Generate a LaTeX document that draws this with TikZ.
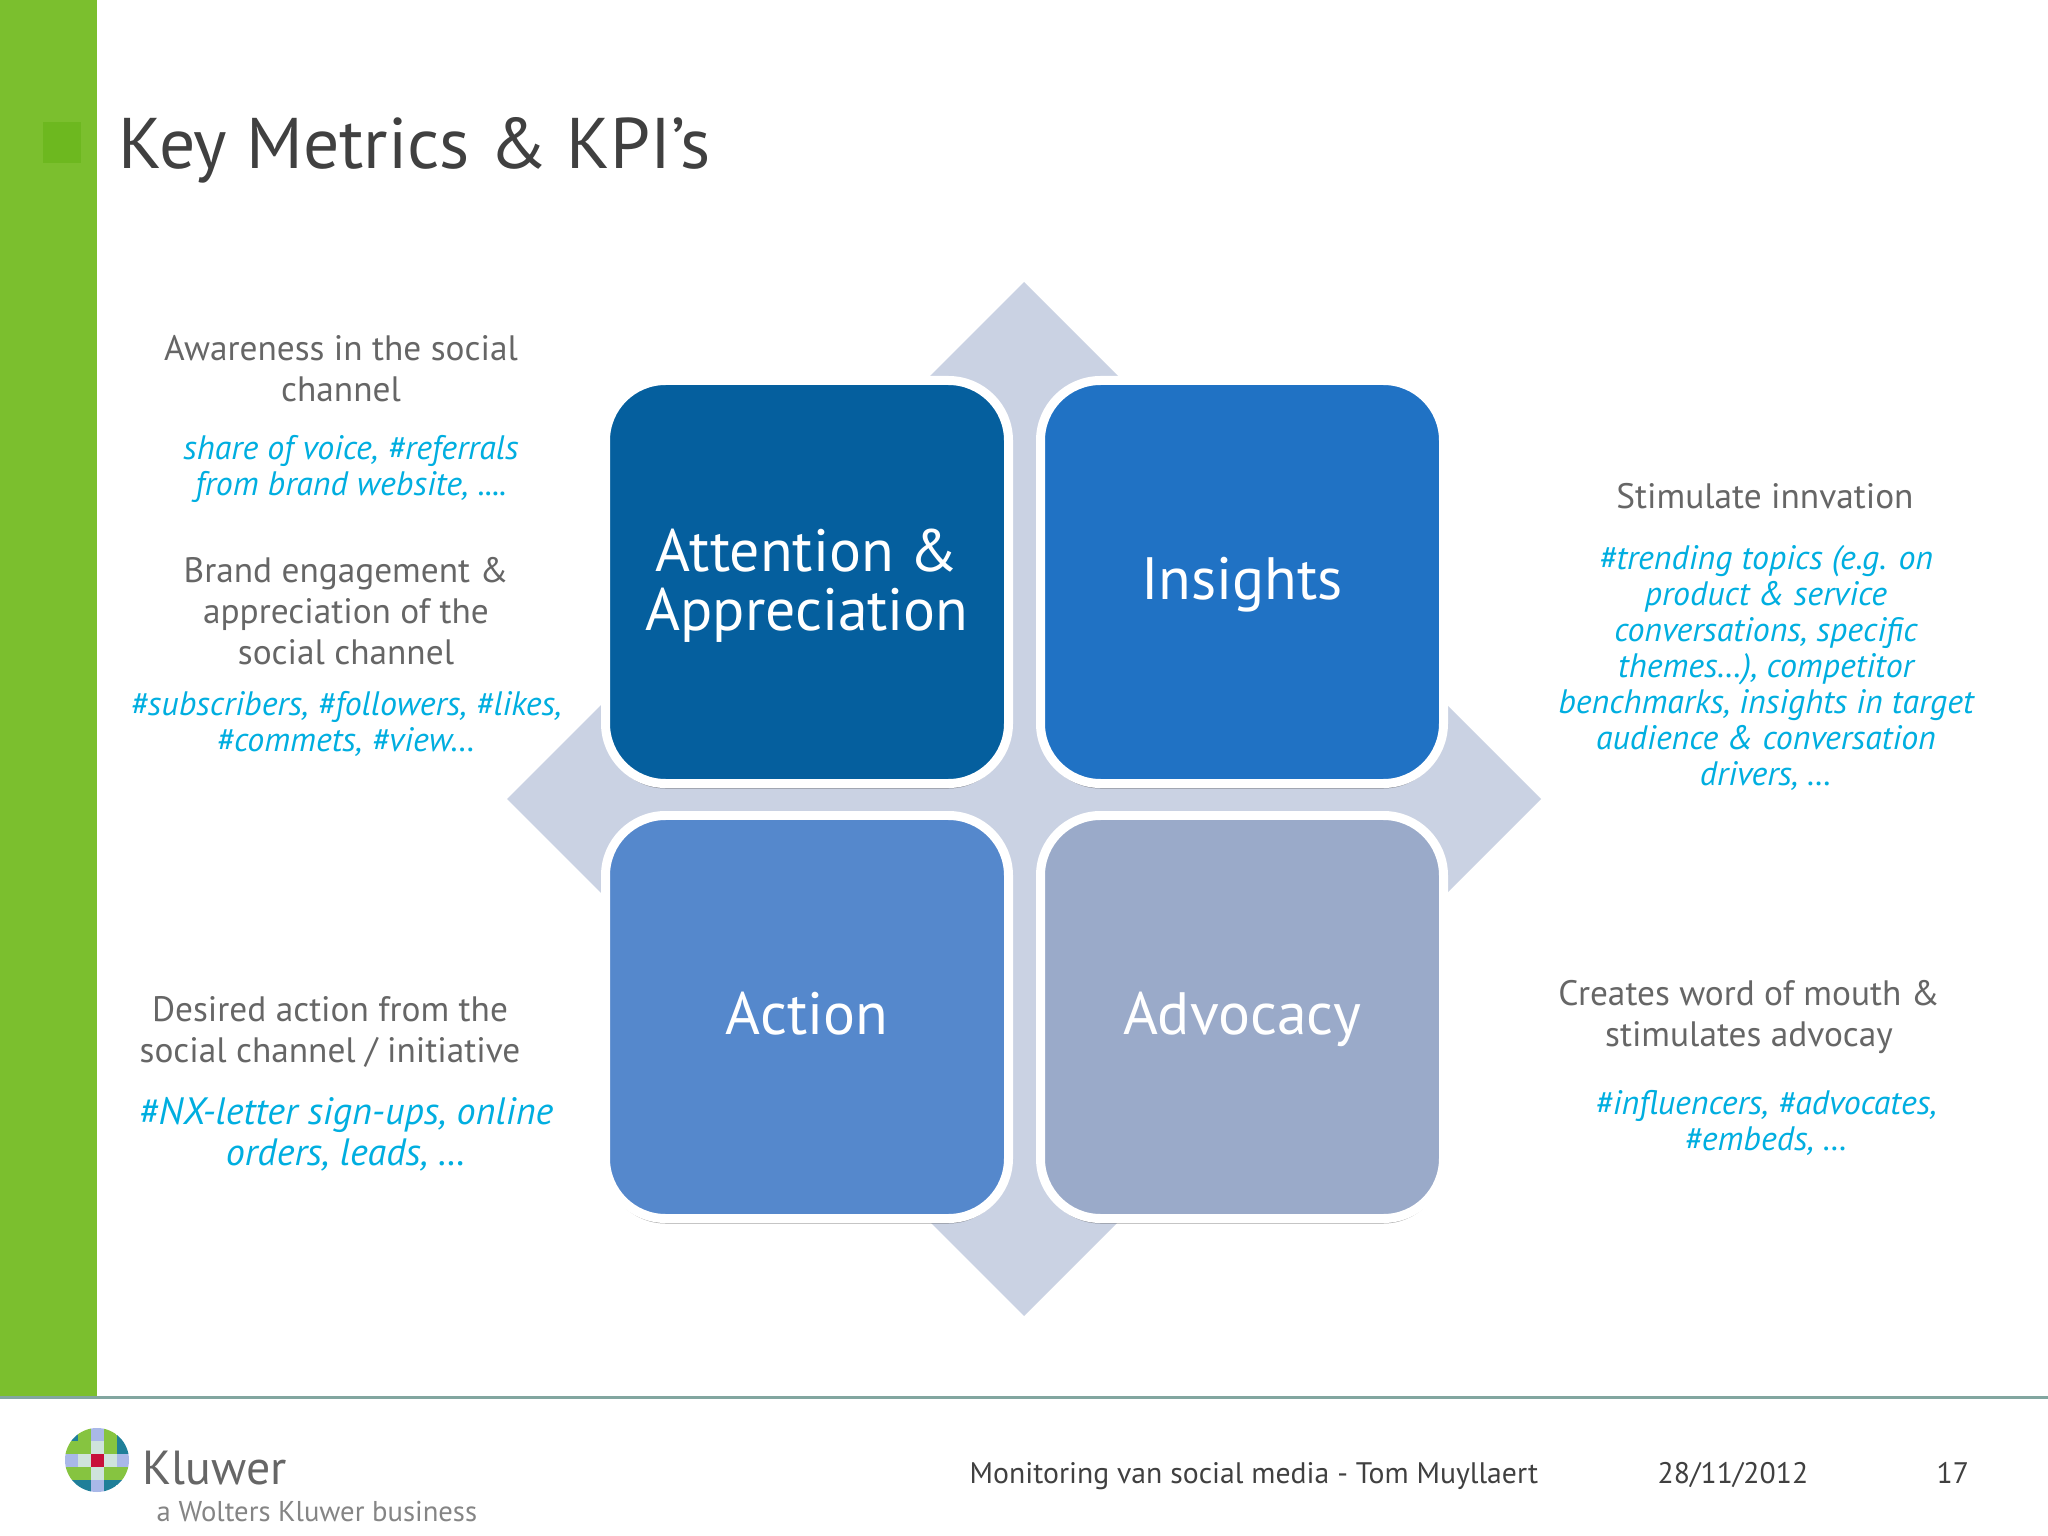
\documentclass[tikz,border=0pt]{standalone}
\usepackage{fontspec}
\setmainfont{PT Sans}
\usepackage{xcolor}
\usetikzlibrary{shapes.geometric}
\usetikzlibrary{shadows}
\definecolor{barGreen}{HTML}{7BBF2E}
\definecolor{markGreen}{HTML}{6DB81F}
\definecolor{titleGrey}{HTML}{404040}
\definecolor{noteGrey}{HTML}{666666}
\definecolor{noteBlue}{HTML}{00AEE0}
\definecolor{backBlue}{HTML}{CAD2E3}
\definecolor{footLine}{HTML}{82A6A0}
\definecolor{gT}{HTML}{1F7F99}
\definecolor{gG}{HTML}{86C440}
\definecolor{gL}{HTML}{A9B8E8}
\definecolor{gP}{HTML}{CFE3DC}
\definecolor{gR}{HTML}{C8103A}
\newcommand{\quadfix}{\rule[-0.13cm]{0pt}{0.62cm}}
\tikzset{
  quad/.style = {rectangle, draw=white, line width=0.09cm, rounded corners=0.6cm, minimum width=4.03cm, minimum height=4.03cm, inner sep=0pt, outer sep=0pt, text=white, align=center, font={\fontsize{17pt}{16.8pt}\selectfont}, drop shadow={shadow xshift=0pt, shadow yshift=-0.05cm, opacity=0.4, fill=black}},
  note/.style = {align=center, text=noteGrey, font={\fontsize{10.05pt}{11.67pt}\selectfont}, inner sep=0pt},
  metric/.style = {align=center, text=noteBlue, font={\fontsize{9.65pt}{10.28pt}\selectfont\itshape}, inner sep=0pt},
  bigmetric/.style = {metric, font={\fontsize{10.85pt}{11.67pt}\selectfont\itshape}},
  foot/.style = {anchor=base west, text=titleGrey, font={\fontsize{8.45pt}{10pt}\selectfont}, inner sep=0pt}
}

\begin{document}
\begin{tikzpicture}
    \useasboundingbox (0,0) rectangle (20.48,-15.36);
    \fill[white] (0,0) rectangle (20.48,-15.36);

    % side bar
    \fill[barGreen] (0,0) rectangle (0.965,-13.96);
    \fill[markGreen] (0.43,-1.22) rectangle (0.81,-1.63);
    \fill[footLine] (0,-13.96) rectangle (20.48,-13.985);

    % title
    \node[anchor=base west, inner sep=0pt, text=titleGrey, font={\fontsize{20.4pt}{24pt}\selectfont}] (title) at (1.18,-1.69) {Key Metrics \& KPI’s};

    % vertices
    \node[diamond, fill=backBlue, minimum width=10.34cm, minimum height=10.34cm, inner sep=0pt, outer sep=0pt] (back) at (10.24,-7.99) {};
    \node[quad, fill={rgb,255:red,5;green,95;blue,158}] (attention) at (8.07,-5.82) {\quadfix Attention \&\\Appreciation};
    \node[quad, fill={rgb,255:red,32;green,114;blue,196}] (insights) at (12.42,-5.82) {\quadfix Insights};
    \node[quad, fill={rgb,255:red,85;green,136;blue,204}] (action) at (8.07,-10.17) {\quadfix Action};
    \node[quad, fill={rgb,255:red,154;green,170;blue,201}] (advocacy) at (12.42,-10.17) {\quadfix Advocacy};

    % left texts
    \node[note] (awareness) at (3.41,-3.69) {Awareness in the social\\channel};
    \node[metric] (share) at (3.51,-4.69) {share of voice, \#referrals\\from brand website, ....};
    \node[note] (brand) at (3.46,-6.11) {Brand engagement \&\\appreciation of the\\social channel};
    \node[metric] (subscribers) at (3.46,-7.24) {\#subscribers, \#followers, \#likes,\\\#commets, \#view…};
    \node[note] (desired) at (3.30,-10.32) {Desired action from the\\social channel / initiative};
    \node[bigmetric] (letter) at (3.46,-11.34) {\#NX-letter sign-ups, online\\orders, leads, …};

    % right texts
    \node[note] (stimulate) at (17.65,-4.96) {Stimulate innvation};
    \node[metric] (trending) at (17.66,-6.68) {\#trending topics (e.g. on\\product \& service\\conversations, specific\\themes…), competitor\\benchmarks, insights in target\\audience \& conversation\\drivers, …};
    \node[note] (creates) at (17.49,-10.17) {Creates word of mouth \&\\stimulates advocay};
    \node[metric] (influencers) at (17.66,-11.23) {\#influencers, \#advocates,\\\#embeds, …};

    % logo
    \begin{scope}
      \clip (0.97,-14.60) circle (0.32);
      \foreach \col/\row/\shade in {0/0/gT,1/0/gG,2/0/gL,3/0/gG,4/0/gT,
                                    0/1/gG,1/1/gG,2/1/gP,3/1/gG,4/1/gT,
                                    0/2/gL,1/2/gP,2/2/gP,3/2/gP,4/2/gL,
                                    0/3/gG,1/3/gG,2/3/gP,3/3/gG,4/3/gG,
                                    0/4/gT,1/4/gT,2/4/gL,3/4/gT,4/4/gT}
        \fill[\shade] (0.645+0.13*\col,-14.275-0.13*\row) rectangle ++(0.13,-0.13);
      \fill[gR] (0.905,-14.535) rectangle (1.035,-14.665);
    \end{scope}
    \node[anchor=base west, inner sep=0pt, text=noteGrey, font={\fontsize{13.6pt}{16pt}\selectfont}] (kluwer) at (1.42,-14.84) {Kluwer};
    \node[anchor=base west, inner sep=0pt, text=noteGrey!80, font={\fontsize{8.15pt}{9pt}\selectfont}] (business) at (1.56,-15.21) {a Wolters Kluwer business};

    % footer
    \node[foot] (footer) at (9.69,-14.83) {Monitoring van social media - Tom Muyllaert};
    \node[foot] (date) at (16.57,-14.83) {28/11/2012};
    \node[foot] (page) at (19.36,-14.83) {17};
\end{tikzpicture}
\end{document}
